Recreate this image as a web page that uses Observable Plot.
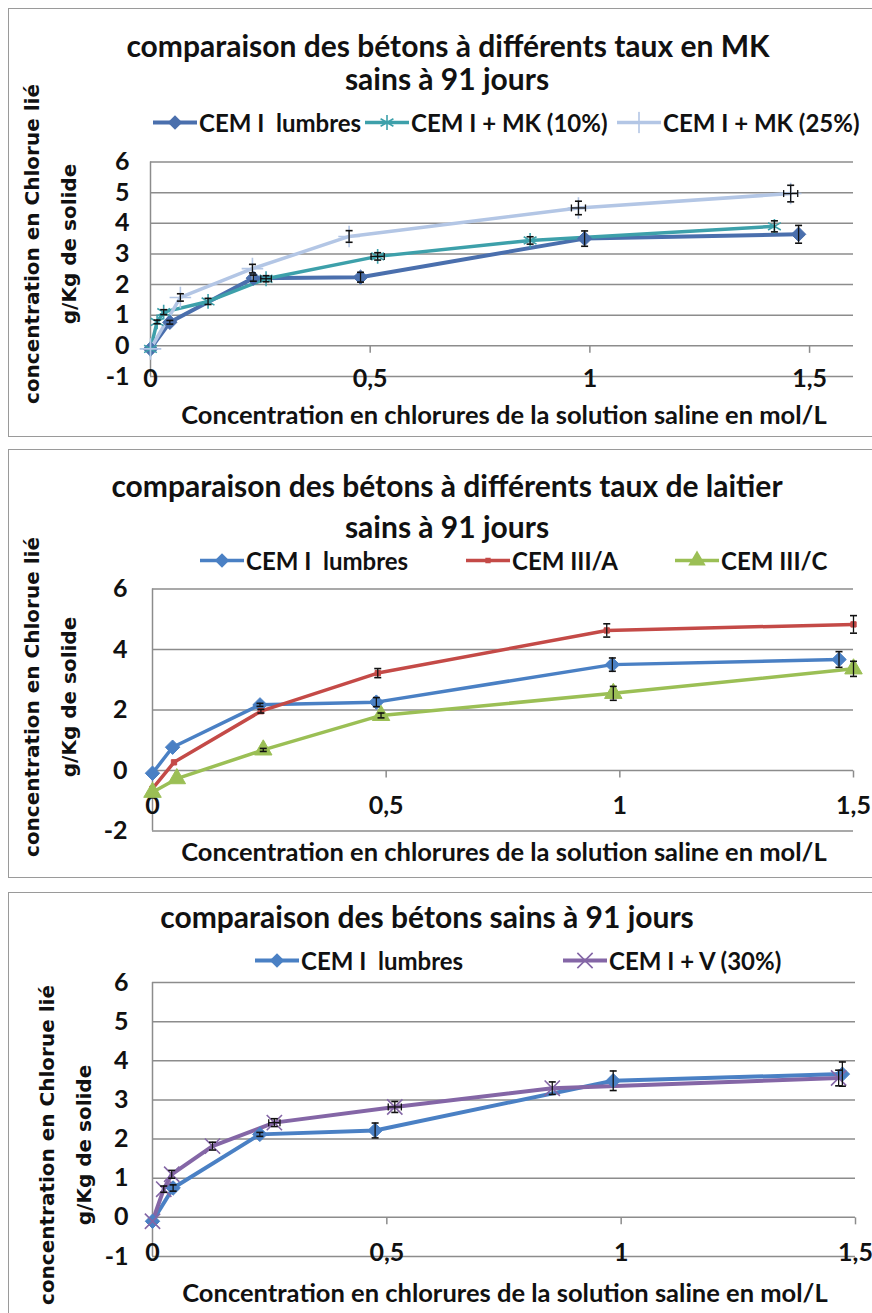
<!DOCTYPE html>
<html><head><meta charset="utf-8">
<script src="https://cdn.jsdelivr.net/npm/d3@7"></script>
<script src="https://cdn.jsdelivr.net/npm/@observablehq/plot@0.6"></script>
<style>
body{margin:0;background:#fff;}
#page{position:relative;width:872px;height:1313px;overflow:hidden;background:#fff;font-family:Lato,"Open Sans",sans-serif;color:#111;}
.box{position:absolute;border:1.5px solid #9a9a9a;box-sizing:border-box;background:#fff;}
.t{position:absolute;font-weight:bold;white-space:nowrap;transform:translate(-50%,-50%);line-height:1;}
.yt{position:absolute;font-family:"DejaVu Sans",sans-serif;font-weight:bold;font-size:20px;white-space:nowrap;text-align:center;line-height:37px;transform:translate(-50%,-50%) rotate(-90deg);}
.leg{position:absolute;display:flex;align-items:center;font-weight:bold;font-size:24px;white-space:nowrap;transform:translateY(-50%);}
.plot{position:absolute;left:0;}
</style></head><body><div id="page"></div>
<script>
// ---------- data ----------
const xTicks = [0, 0.5, 1, 1.5];
const yTicks1 = [-1, 0, 1, 2, 3, 4, 5, 6];
const yTicks2 = [-2, 0, 2, 4, 6];
const yTicks3 = [-1, 0, 1, 2, 3, 4, 5, 6];

const titles1 = ["comparaison des bétons à différents taux en MK", "sains à 91 jours"];
const titles2 = ["comparaison des bétons à différents taux de laitier", "sains à 91 jours"];
const titles3 = ["comparaison des bétons sains à 91 jours"];
const xTitle = "Concentration en chlorures de la solution saline en mol/L";
const yTitle = ["concentration en Chlorue lié", "g/Kg de solide"];

// panel 1
const p1Names = ["CEM I  lumbres", "CEM I + MK (10%)", "CEM I + MK (25%)"];
const p1a_x = [0, 0.044, 0.234, 0.478, 0.988, 1.475];
const p1a_y = [-0.1, 0.77, 2.21, 2.24, 3.50, 3.64];
const p1a_e = [0, 0.06, 0.1, 0.16, 0.25, 0.29];
const p1b_x = [0, 0.015, 0.03, 0.131, 0.263, 0.517, 0.864, 1.42];
const p1b_y = [-0.1, 0.78, 1.1, 1.45, 2.19, 2.92, 3.44, 3.9];
const p1b_e = [0, 0.06, 0.08, 0.1, 0.1, 0.12, 0.12, 0.18];
const p1b_xe = [0, 0, 0, 0, 0.012, 0.015, 0, 0];
const p1c_x = [0, 0.068, 0.232, 0.452, 0.974, 1.457];
const p1c_y = [-0.1, 1.58, 2.52, 3.57, 4.5, 4.97];
const p1c_e = [0, 0.12, 0.14, 0.19, 0.22, 0.27];
const p1c_xe = [0, 0, 0, 0, 0.016, 0.016];

// panel 2
const p2Names = ["CEM I  lumbres", "CEM III/A", "CEM III/C"];
const p2a_x = [0, 0.043, 0.23, 0.479, 0.984, 1.469];
const p2a_y = [-0.09, 0.77, 2.17, 2.26, 3.5, 3.67];
const p2a_e = [0, 0, 0.05, 0.15, 0.22, 0.26];
const p2b_x = [0, 0.046, 0.232, 0.482, 0.972, 1.5];
const p2b_y = [-0.6, 0.27, 1.96, 3.22, 4.63, 4.83];
const p2b_e = [0, 0, 0.06, 0.15, 0.22, 0.29];
const p2c_x = [0, 0.052, 0.237, 0.489, 0.986, 1.5];
const p2c_y = [-0.72, -0.27, 0.68, 1.82, 2.55, 3.36];
const p2c_e = [0, 0, 0.05, 0.08, 0.23, 0.25];

// panel 3
const p3Names = ["CEM I  lumbres", "CEM I + V (30%)"];
const p3a_x = [0, 0.044, 0.229, 0.475, 0.983, 1.472];
const p3a_y = [-0.1, 0.75, 2.12, 2.22, 3.49, 3.66];
const p3a_e = [0, 0.08, 0.05, 0.19, 0.25, 0.31];
const p3b_x = [0, 0.024, 0.041, 0.128, 0.26, 0.517, 0.853, 1.464];
const p3b_y = [-0.1, 0.72, 1.1, 1.82, 2.42, 2.82, 3.3, 3.56];
const p3b_e = [0, 0.08, 0.1, 0.1, 0.1, 0.14, 0.16, 0.2];
const p3b_xe = [0, 0, 0, 0, 0.012, 0.014, 0, 0];

// ---------- helpers ----------
const page = document.getElementById("page");
const GRID = "#8c8c8c";
const FONT = "Lato, 'Open Sans', sans-serif";
const hcap = {draw(ctx, size){ const r = Math.sqrt(size/Math.PI); ctx.moveTo(-r,0); ctx.lineTo(r,0);} };
const vcap = {draw(ctx, size){ const r = Math.sqrt(size/Math.PI); ctx.moveTo(0,-r); ctx.lineTo(0,r);} };

function rows(xs, ys, es, xes){ return xs.map((x,i)=>({x, y: ys[i], e: es ? es[i] : 0, xe: xes ? xes[i] : 0})); }

function add(html, cls, style){ const d = document.createElement("div"); d.className = cls; d.innerHTML = html; Object.assign(d.style, style); page.appendChild(d); return d; }

function swatch(s){
  const w = 44, h = 22;
  const ns = "http://www.w3.org/2000/svg";
  const svg = document.createElementNS(ns, "svg");
  svg.setAttribute("width", w); svg.setAttribute("height", h);
  svg.style.marginRight = "2px";
  const ln = document.createElementNS(ns, "line");
  ln.setAttribute("x1", 0); ln.setAttribute("x2", w); ln.setAttribute("y1", h/2); ln.setAttribute("y2", h/2);
  ln.setAttribute("stroke", s.color); ln.setAttribute("stroke-width", s.width || 3.5);
  svg.appendChild(ln);
  const types = {diamond2: d3.symbolDiamond2, square: d3.symbolSquare, triangle: d3.symbolTriangle, asterisk: d3.symbolAsterisk, plus: d3.symbolPlus, times: d3.symbolTimes};
  const t = types[s.symbol];
  const p = document.createElementNS(ns, "path");
  p.setAttribute("d", d3.symbol(t, Math.PI * s.r * s.r)());
  p.setAttribute("transform", `translate(${w/2},${h/2})`);
  if (s.filled) { p.setAttribute("fill", s.color); } else { p.setAttribute("fill", "none"); p.setAttribute("stroke", s.color); p.setAttribute("stroke-width", 1.6); }
  svg.appendChild(p);
  return svg;
}

function legend(series, lefts, cy){
  series.forEach((s, i) => {
    const d = document.createElement("div"); d.className = "leg";
    d.style.left = lefts[i] + "px"; d.style.top = cy + "px";
    d.appendChild(swatch(s));
    const sp = document.createElement("span"); sp.textContent = s.name; sp.style.whiteSpace = "pre";
    d.appendChild(sp);
    page.appendChild(d);
  });
}

function panel(cfg){
  const marks = [
    Plot.ruleY(cfg.yTicks, {stroke: GRID, strokeWidth: 1.5}),
    Plot.ruleX([0], {stroke: GRID, strokeWidth: 1.5}),
    Plot.dot(xTicks.filter(d => d > 0), {x: d => d, y: () => 0, symbol: vcap, r: 3.5, dy: 3.5, stroke: GRID, strokeWidth: 1.5}),
    Plot.axisY(cfg.yTicks, {tickSize: 0, tickPadding: cfg.yPad, tickFormat: d => String(d), label: null, fontSize: 25, fontWeight: "bold", fill: "#111"}),
    Plot.text(xTicks, {x: d => d, y: () => 0, dy: cfg.xLabDy, text: d => String(d).replace(".", ","), fontSize: 25, fontWeight: "bold", fill: "#111"})
  ];
  cfg.series.forEach(s => {
    marks.push(Plot.line(s.data, {x: "x", y: "y", stroke: s.color, strokeWidth: s.width || 3.5, strokeLinejoin: "round"}));
  });
  cfg.series.forEach(s => {
    if (s.filled) marks.push(Plot.dot(s.data, {x: "x", y: "y", symbol: s.symbol, r: s.r, fill: s.color, stroke: s.color, strokeWidth: 1}));
    else marks.push(Plot.dot(s.data, {x: "x", y: "y", symbol: s.symbol, r: s.r, fill: "none", stroke: s.color, strokeWidth: 1.6}));
  });
  cfg.series.forEach(s => {
    const ed = s.data.filter(d => d.e > 0);
    marks.push(Plot.ruleX(ed, {x: "x", y1: d => d.y - d.e, y2: d => d.y + d.e, stroke: "#111", strokeWidth: 1.3}));
    marks.push(Plot.dot(ed, {x: "x", y: d => d.y + d.e, symbol: hcap, r: 3.5, stroke: "#111", strokeWidth: 1.6}));
    marks.push(Plot.dot(ed, {x: "x", y: d => d.y - d.e, symbol: hcap, r: 3.5, stroke: "#111", strokeWidth: 1.6}));
    const xd = s.data.filter(d => d.xe > 0);
    marks.push(Plot.ruleY(xd, {y: "y", x1: d => d.x - d.xe, x2: d => d.x + d.xe, stroke: "#111", strokeWidth: 1.3}));
    marks.push(Plot.dot(xd, {x: d => d.x - d.xe, y: "y", symbol: vcap, r: 3.5, stroke: "#111", strokeWidth: 1.3}));
    marks.push(Plot.dot(xd, {x: d => d.x + d.xe, y: "y", symbol: vcap, r: 3.5, stroke: "#111", strokeWidth: 1.3}));
  });
  const svg = Plot.plot({
    width: 872, height: cfg.height,
    marginTop: cfg.mt, marginBottom: cfg.mb, marginLeft: cfg.ml, marginRight: cfg.mr,
    x: {domain: cfg.xDomain, axis: null},
    y: {domain: cfg.yDomain, label: null},
    style: {background: "transparent", fontFamily: FONT, overflow: "visible", color: "#111"},
    marks
  });
  svg.classList.add("plot");
  svg.style.top = cfg.top + "px";
  page.appendChild(svg);
}

// ---------- boxes ----------
add("", "box", {left: "8px", top: "8px", width: "880px", height: "429px"});
add("", "box", {left: "8px", top: "449px", width: "880px", height: "429px"});
add("", "box", {left: "8px", top: "892px", width: "880px", height: "440px"});

// ---------- panel 1 ----------
const s1 = [
  {name: p1Names[0], data: rows(p1a_x, p1a_y, p1a_e), color: "#4a6fad", symbol: "diamond2", r: 6.5, filled: true, width: 4},
  {name: p1Names[1], data: rows(p1b_x, p1b_y, p1b_e, p1b_xe), color: "#3da0aa", symbol: "asterisk", r: 7, filled: false, width: 3.5},
  {name: p1Names[2], data: rows(p1c_x, p1c_y, p1c_e, p1c_xe), color: "#b3c6e5", symbol: "plus", r: 7, filled: false, width: 3.5}
];
panel({top: 0, height: 436, mt: 161.5, mb: 60, ml: 150, mr: 19, xDomain: [0, 1.6], yDomain: [-1, 6], yTicks: yTicks1, yPad: 21, xLabDy: 33, series: s1});
add(titles1[0], "t", {left: "448px", top: "45px", fontSize: "30px"});
add(titles1[1], "t", {left: "447px", top: "78px", fontSize: "30px"});
legend(s1, [153, 365, 617], 122);
add(xTitle, "t", {left: "504px", top: "415px", fontSize: "25.5px"});
add(yTitle.join("<br>"), "yt", {left: "51px", top: "244px"});

// ---------- panel 2 ----------
const s2 = [
  {name: p2Names[0], data: rows(p2a_x, p2a_y, p2a_e), color: "#4a80c4", symbol: "diamond2", r: 6.5, filled: true},
  {name: p2Names[1], data: rows(p2b_x, p2b_y, p2b_e), color: "#c44a47", symbol: "square", r: 3, filled: true},
  {name: p2Names[2], data: rows(p2c_x, p2c_y, p2c_e), color: "#9bbf55", symbol: "triangle", r: 6.5, filled: true}
];
panel({top: 440, height: 440, mt: 148.5, mb: 49.5, ml: 152, mr: 19, xDomain: [0, 1.5], yDomain: [-2, 6], yTicks: yTicks2, yPad: 25, xLabDy: 35, series: s2});
add(titles2[0], "t", {left: "447px", top: "485px", fontSize: "30px"});
add(titles2[1], "t", {left: "447px", top: "526px", fontSize: "30px"});
legend(s2, [200, 466, 675], 560);
add(xTitle, "t", {left: "504px", top: "852px", fontSize: "25.5px"});
add(yTitle.join("<br>"), "yt", {left: "51px", top: "697px"});

// ---------- panel 3 ----------
const s3 = [
  {name: p3Names[0], data: rows(p3a_x, p3a_y, p3a_e), color: "#4a80c4", symbol: "diamond2", r: 6.5, filled: true, width: 4},
  {name: p3Names[1], data: rows(p3b_x, p3b_y, p3b_e, p3b_xe), color: "#8466a6", symbol: "times", r: 7, filled: false, width: 4}
];
panel({top: 880, height: 433, mt: 102, mb: 57, ml: 152, mr: 17, xDomain: [0, 1.5], yDomain: [-1, 6], yTicks: yTicks3, yPad: 24, xLabDy: 36, series: s3});
add(titles3[0], "t", {left: "427px", top: "916px", fontSize: "30px"});
legend(s3, [255, 563], 960);
add(xTitle, "t", {left: "505px", top: "1293px", fontSize: "25.5px"});
add(yTitle.join("<br>"), "yt", {left: "66px", top: "1145px"});
</script></body></html>
